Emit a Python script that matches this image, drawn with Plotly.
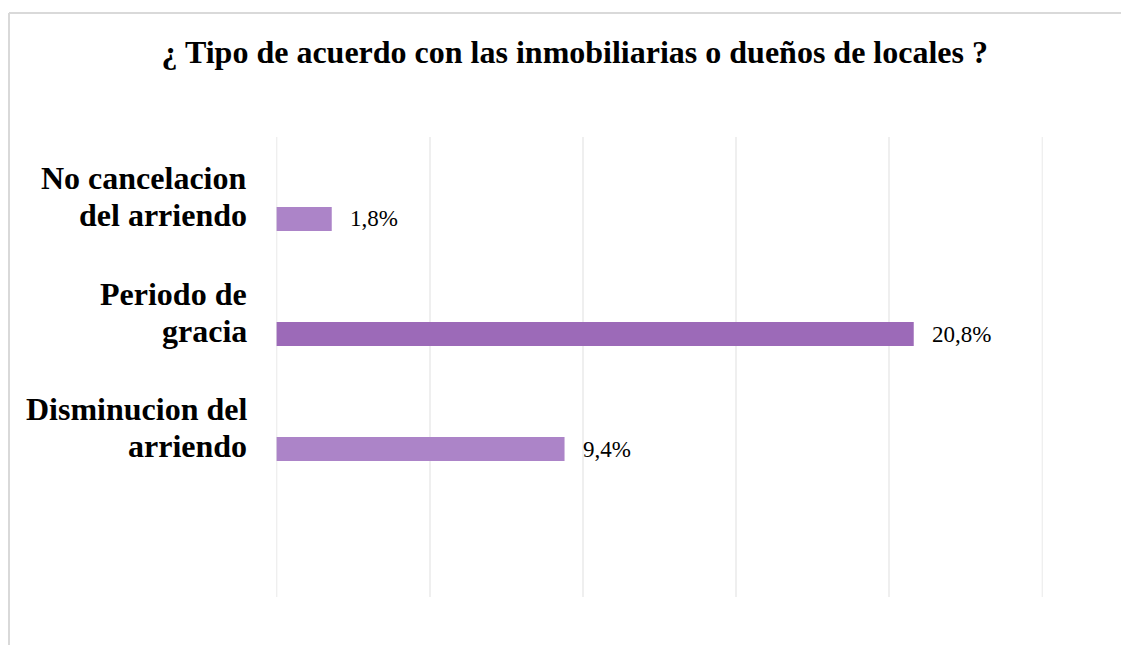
import plotly.graph_objects as go

# data
categorias = [["No cancelacion", "del arriendo"],
              ["Periodo de", "gracia"],
              ["Disminucion del", "arriendo"]]
valores = [1.8, 20.8, 9.4]
colores = ["#AC84C8", "#9C6AB8", "#AC84C8"]
titulo = "¿ Tipo de acuerdo con las inmobiliarias o dueños de locales ?"
grid_vals = [0, 5, 10, 15, 20, 25]

FONT = "Liberation Serif, Times New Roman, serif"

# page body has an 8px margin, so the layout below is shifted by that amount
fig = go.Figure()

fig.add_trace(go.Bar(x=valores,
                     y=list(range(len(categorias))),
                     orientation='h',
                     marker_color=colores,
                     marker_line_width=0,
                     width=0.21,
                     showlegend=False,
                     hoverinfo='skip'))

# data labels
for i, v in enumerate(valores):
    fig.add_annotation(x=v, y=i, xref='x', yref='y',
                       text=f"{v:.1f}%".replace('.', ','),
                       showarrow=False, xanchor='left', xshift=16,
                       font=dict(family=FONT, size=23, color='black'))

# category labels, one annotation per line, sitting above each bar
for i, lineas in enumerate(categorias):
    for shift, linea in zip([40.5, 3.5], lineas):
        fig.add_annotation(x=-0.035, y=i, xref='paper', yref='y',
                           text=f"<b>{linea}</b>",
                           showarrow=False, xanchor='right', yanchor='middle', yshift=shift,
                           font=dict(family=FONT, size=32, color='black'))

# plotly skips grid lines at the plot edges, draw those two by hand
for g in [grid_vals[0], grid_vals[-1]]:
    fig.add_shape(type='line', xref='x', yref='paper', x0=g, x1=g, y0=0, y1=1,
                  layer='below', line=dict(color='#EFEFEF', width=1.5))

# outer chart border (top and left edges visible)
fig.add_shape(type='line', xref='paper', yref='paper',
              x0=-0.3481, x1=-0.3481, y0=-0.3, y1=1.2696,
              line=dict(color='#D9D9D9', width=2))
fig.add_shape(type='line', xref='paper', yref='paper',
              x0=-0.3481, x1=1.3, y0=1.2696, y1=1.2696,
              line=dict(color='#D9D9D9', width=2))

fig.update_layout(
    width=1129, height=645,
    margin=dict(l=268, r=94, t=129, b=56),
    paper_bgcolor='white', plot_bgcolor='white',
    title=dict(text=f"<b>{titulo}</b>", x=0.502, xanchor='center',
               y=1 - 44 / 645, yanchor='middle', yref='container',
               font=dict(family=FONT, size=32, color='black')),
    xaxis=dict(range=[-0.02, 25.02], tickvals=grid_vals, showticklabels=False,
               showgrid=True, gridcolor='#EFEFEF', gridwidth=1.5, zeroline=False, showline=False),
    yaxis=dict(range=[3.287, -0.713], showticklabels=False, showgrid=False,
               zeroline=False, showline=False),
)

fig.write_html("out.html")
